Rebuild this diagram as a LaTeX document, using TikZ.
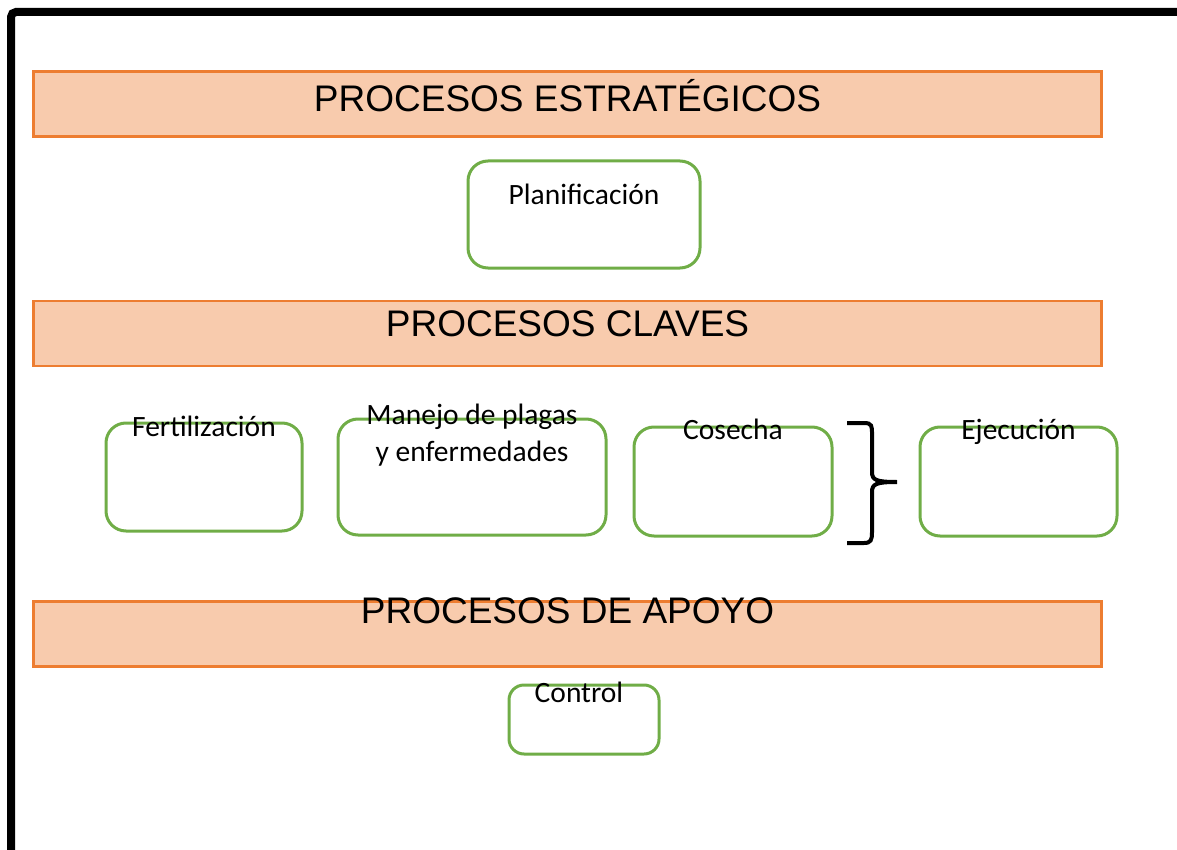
\documentclass[tikz,border=0pt]{standalone}
\usepackage{fontspec}
\setmainfont{Carlito}
\newfontfamily\headfont{Liberation Sans}
\usetikzlibrary{positioning}
\definecolor{headfill}{HTML}{F8CBAD}
\definecolor{headline}{HTML}{ED7D31}
\definecolor{boxline}{HTML}{70AD47}

\begin{document}
\begin{tikzpicture}[x=1pt,y=-1pt,semithick]
  \tikzstyle{banner}=[draw=headline,fill=headfill,line width=2.5pt,minimum width=1068pt,minimum height=65pt,inner sep=0pt]
  \tikzstyle{bannertext}=[anchor=base,inner sep=0pt,font=\headfont\fontsize{37}{44}\selectfont]
  \tikzstyle{proc}=[draw=boxline,line width=3pt,rounded corners=20pt,inner sep=0pt]
  \tikzstyle{proctext}=[anchor=base,inner sep=0pt,align=center,font=\fontsize{29.5}{37}\selectfont]

  \useasboundingbox (0,0) rectangle (1177,850);
  \draw[line width=8pt,rounded corners=5pt] (11,870) -- (11,12) -- (1200,12);

  \node[banner] (strat) at (567.5,104) {};
  \node[bannertext] (stratText) at ([yshift=-8pt]strat.center) {PROCESOS ESTRATÉGICOS};
  \node[proc,minimum width=232pt,minimum height=107pt] (plan) at (584,214.5) {};
  \node[proctext] (planText) at ([yshift=9.5pt]plan.center) {Planificación};

  \node[banner] (clave) at (567.5,333.5) {};
  \node[bannertext] (claveText) at ([yshift=-2.5pt]clave.center) {PROCESOS CLAVES};

  \node[proc,minimum width=196pt,minimum height=108pt] (fert) at (204,477) {};
  \node[proctext] (fertText) at ([yshift=-15pt]fert.north) {Fertilización};
  \node[proc,minimum width=268pt,minimum height=116pt] (plaga) at (472,477) {};
  \node[proctext] (plagaText) at ([yshift=-44pt]plaga.north) {Manejo de plagas\\y enfermedades};
  \node[proc,minimum width=198pt,minimum height=109pt] (cose) at (733,481.5) {};
  \node[proctext] (coseText) at ([yshift=-14pt]cose.north) {Cosecha};
  \node[proc,minimum width=197pt,minimum height=109pt] (ejec) at (1018.5,481.5) {};
  \node[proctext] (ejecText) at ([yshift=-14pt]ejec.north) {Ejecución};

  \coordinate (braceTop) at (847,423);
  \coordinate (braceTip) at (897,482);
  \coordinate (braceBot) at (847,543);
  \draw[line width=4pt] (braceTop) -- (864,423) .. controls (872,423) and (872,426) .. (872,434)
    -- (872,472) .. controls (872,480) and (876,482) .. (braceTip)
    (braceTip) .. controls (876,482) and (872,484) .. (872,492)
    -- (872,532) .. controls (872,540) and (871,543) .. (864,543) -- (braceBot);

  \node[banner] (apoyo) at (567.5,634) {};
  \node[bannertext] (apoyoText) at ([yshift=11pt]apoyo.center) {PROCESOS DE APOYO};
  \node[proc,rounded corners=15pt,minimum width=150pt,minimum height=69pt] (ctrl) at (584,719.5) {};
  \node[proctext] (ctrlText) at ([xshift=-5pt,yshift=-19pt]ctrl.north) {Control};
\end{tikzpicture}
\end{document}
